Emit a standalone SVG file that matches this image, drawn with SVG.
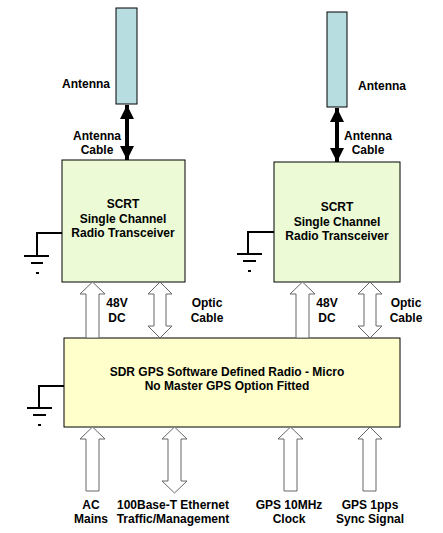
<svg xmlns="http://www.w3.org/2000/svg" width="443" height="533" viewBox="0 0 443 533">
<style>
text{font-family:"Liberation Sans",Arial,sans-serif;font-size:12px;font-weight:bold;fill:#000;text-anchor:middle}
.ant{fill:#b8dde1;stroke:#000;stroke-width:1}
.scrt{fill:#ecfad5;stroke:#000;stroke-width:1}
.sdr{fill:#ffffcc;stroke:#000;stroke-width:1}
.hol{fill:#fff;stroke:#666;stroke-width:1}
.gnd{fill:none;stroke:#000;stroke-width:2}
.blk{stroke:#000;stroke-width:4}
</style>
<defs>
<marker id="ah" viewBox="0 0 10 10" refX="10" refY="5" markerWidth="3.6" markerHeight="4" orient="auto-start-reverse" markerUnits="strokeWidth">
<path d="M0,0 L10,5 L0,10 z" fill="#000"/>
</marker>
</defs>
<rect width="443" height="533" fill="#fff"/>
<g id="antenna1"><rect class="ant" x="116" y="8" width="21" height="96"/><text x="86" y="88">Antenna</text></g>
<g id="antenna2"><rect class="ant" x="327" y="12" width="20" height="95"/><text x="382" y="90">Antenna</text></g>
<g id="scrt1"><rect class="scrt" x="62" y="160" width="123" height="122"/>
<text x="123" y="208">SCRT</text><text x="123" y="223">Single Channel</text><text x="123" y="237">Radio Transceiver</text></g>
<g id="scrt2"><rect class="scrt" x="274" y="162" width="126" height="120"/>
<text x="337" y="211">SCRT</text><text x="337" y="226">Single Channel</text><text x="337" y="240">Radio Transceiver</text></g>
<g id="sdr"><rect class="sdr" x="64" y="338" width="336" height="89"/>
<text x="227" y="376">SDR GPS Software Defined Radio - Micro</text><text x="227" y="390">No Master GPS Option Fitted</text></g>
<g id="ground1"><path class="gnd" d="M62,233 H37 V256 M24,256 H49 M31,263 H43 M36,273 H39"/></g>
<g id="ground2"><path class="gnd" d="M274,232 H248 V254 M237,254 H262 M243,261 H256 M248,271 H251"/></g>
<g id="ground3"><path class="gnd" d="M64,386 H39 V408 M27,408 H52 M33,415 H46 M38,425 H41"/></g>
<g id="connectors">
<line class="blk" x1="127" y1="105" x2="127" y2="160" marker-start="url(#ah)" marker-end="url(#ah)"/>
<line class="blk" x1="337" y1="108" x2="337" y2="162" marker-start="url(#ah)" marker-end="url(#ah)"/>
<polygon class="hol" points="92.5,282 105,294 99,294 99,338 86,338 86,294 80,294"/>
<polygon class="hol" points="160,282 172,294 166,294 166,326 172,326 160,338 148,326 154,326 154,294 148,294"/>
<polygon class="hol" points="302.5,282 315,294 309,294 309,338 296,338 296,294 290,294"/>
<polygon class="hol" points="370,282 382,294 376,294 376,326 382,326 370,338 358,326 364,326 364,294 358,294"/>
<polygon class="hol" points="92.5,427 105,439 99,439 99,491 86,491 86,439 80,439"/>
<polygon class="hol" points="174.5,427 187,439 181,439 181,481 187,481 174.5,493 162,481 168,481 168,439 162,439"/>
<polygon class="hol" points="290.5,427 303,439 297,439 297,491 284,491 284,439 278,439"/>
<polygon class="hol" points="370,427 382,439 376,439 376,491 363,491 363,439 358,439"/>
</g>
<g id="labels">
<text x="97" y="140">Antenna</text><text x="97" y="154">Cable</text>
<text x="368" y="140">Antenna</text><text x="368" y="154">Cable</text>
<text x="117" y="307">48V</text><text x="117" y="322">DC</text>
<text x="207" y="307">Optic</text><text x="207" y="322">Cable</text>
<text x="327" y="307">48V</text><text x="327" y="322">DC</text>
<text x="406" y="307">Optic</text><text x="406" y="322">Cable</text>
<text x="91" y="509">AC</text><text x="91" y="523">Mains</text>
<text x="173" y="509">100Base-T Ethernet</text><text x="173" y="523">Traffic/Management</text>
<text x="289" y="509">GPS 10MHz</text><text x="289" y="523">Clock</text>
<text x="370" y="509">GPS 1pps</text><text x="370" y="523">Sync Signal</text>
</g>
</svg>
